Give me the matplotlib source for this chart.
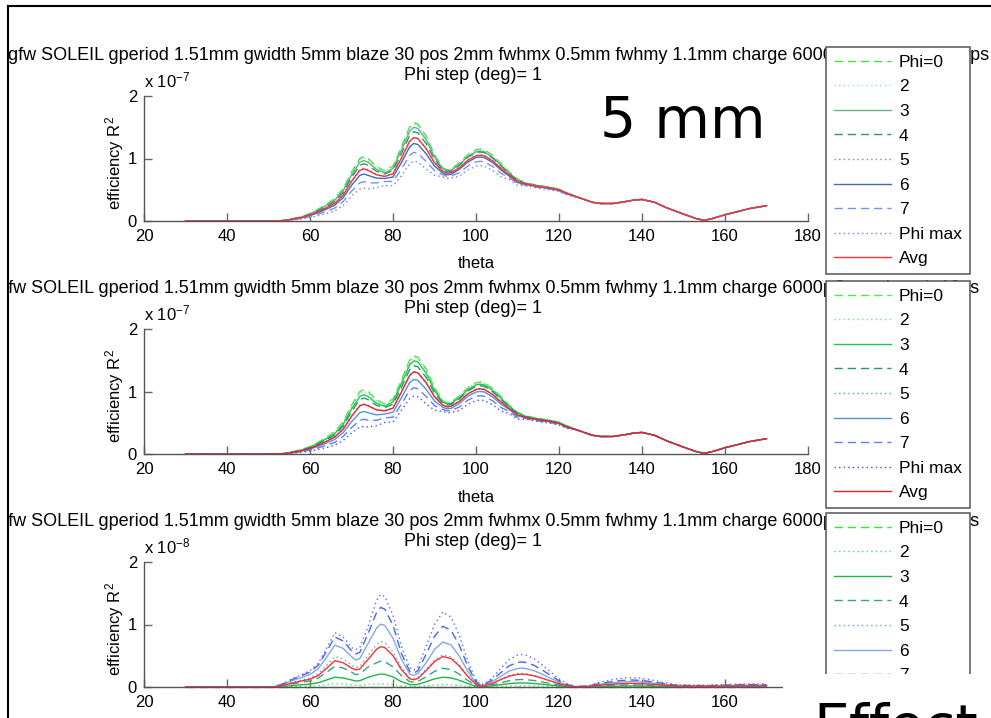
import numpy as np
import matplotlib.pyplot as plt
from matplotlib.lines import Line2D
from matplotlib.patches import Rectangle
from matplotlib.transforms import Bbox, TransformedBbox

plt.rcParams['font.family'] = ['Liberation Sans', 'DejaVu Sans']
plt.rcParams['mathtext.fontset'] = 'custom'
plt.rcParams['mathtext.rm'] = 'Liberation Sans'
plt.rcParams['mathtext.it'] = 'Liberation Sans:italic'

W, H = 991, 718

labels = ['Phi=0', '2', '3', '4', '5', '6', '7', 'Phi max', 'Avg']
title1 = ('gfw SOLEIL gperiod 1.51mm gwidth 5mm blaze 30 pos 2mm fwhmx 0.5mm '
          'fwhmy 1.1mm charge 6000pC rms length 10ps')
title2 = 'Phi step (deg)= 1'

# ---- top two panels (x 1e-7): theta grid, differing part + common tail ----
theta_head = [30, 52, 54, 56, 58, 60, 62, 64, 66, 68,
              70, 72, 73, 74, 76, 78, 80, 82, 84, 85,
              86, 88, 90, 92, 93, 94, 96, 98, 100, 101,
              102, 104, 106, 108, 110, 112, 115, 118, 120, 122]
theta_tail = [125, 128, 130, 133, 136, 138, 140, 143, 146, 150,
              153, 155, 157, 160, 163, 166, 170]
tail_vals = [.37, .30, .28, .28, .31, .335, .345, .30, .21, .11,
             .04, .01, .04, .10, .15, .20, .245]

phi0_head = [0, 0, .01, .04, .07, .12, .19, .27, .36, .52,
             .78, 1.0, 1.03, 1.0, .87, .80, .88, 1.18, 1.5, 1.57,
             1.55, 1.36, 1.06, .85, .82, .83, .93, 1.06, 1.14, 1.15,
             1.14, 1.05, .92, .78, .67, .61, .57, .54, .51, .45]

# panel 1
p2_a = [0, 0, .01, .039, .068, .116, .184, .262, .349, .507,
        .764, .98, 1.009, .98, .857, .792, .867, 1.165, 1.481, 1.55,
        1.53, 1.342, 1.049, .842, .812, .822, .921, 1.049, 1.129, 1.139,
        1.129, 1.04, .911, .772, .663, .604, .564, .535, .505, .446]
p3_a = [0, 0, .01, .037, .065, .112, .177, .251, .335, .486,
        .733, .94, .968, .94, .827, .768, .84, 1.127, 1.433, 1.499,
        1.48, 1.299, 1.023, .833, .804, .813, .902, 1.028, 1.106, 1.116,
        1.106, 1.019, .892, .764, .657, .604, .564, .535, .505, .446]
p4_a = [0, 0, .01, .035, .061, .104, .165, .235, .313, .458,
        .694, .89, .917, .89, .796, .752, .81, 1.074, 1.365, 1.429,
        1.411, 1.238, .986, .816, .787, .797, .893, 1.018, 1.094, 1.104,
        1.094, 1.008, .883, .757, .65, .598, .559, .529, .50, .441]
p5_a = [0, 0, .01, .032, .056, .096, .152, .216, .288, .421,
        .64, .82, .845, .82, .744, .712, .757, 1.003, 1.275, 1.335,
        1.318, 1.156, .933, .791, .763, .772, .856, .975, 1.049, 1.058,
        1.049, .966, .846, .733, .63, .592, .553, .524, .495, .437]
p6_a = [0, 0, .01, .028, .05, .085, .135, .192, .256, .374,
        .569, .73, .752, .73, .687, .68, .704, .932, 1.185, 1.24,
        1.225, 1.074, .88, .765, .738, .747, .828, .943, 1.015, 1.024,
        1.015, .935, .819, .718, .616, .586, .547, .518, .49, .432]
p7_a = [0, 0, .01, .023, .041, .07, .11, .157, .209, .312,
        .476, .61, .628, .61, .609, .632, .634, .826, 1.05, 1.099,
        1.085, .952, .806, .74, .713, .722, .772, .88, .946, .955,
        .946, .872, .764, .694, .596, .573, .536, .508, .479, .423]
pmax_a = [0, 0, 0, .018, .032, .054, .086, .122, .162, .25,
          .398, .51, .525, .51, .531, .568, .563, .72, .915, .958,
          .946, .83, .731, .706, .681, .689, .716, .816, .878, .886,
          .878, .809, .708, .663, .57, .561, .524, .497, .469, .414]
avg_a = [0, 0, .01, .032, .055, .095, .15, .213, .284, .416,
         .632, .81, .834, .81, .74, .713, .757, 1.003, 1.275, 1.335,
         1.318, 1.156, .934, .793, .765, .774, .852, .971, 1.044, 1.053,
         1.044, .962, .843, .735, .631, .591, .552, .523, .494, .436]

# panel 2
p2_b = [0, 0, .01, .038, .067, .115, .182, .259, .346, .502,
        .757, .97, .999, .97, .848, .788, .862, 1.162, 1.478, 1.546,
        1.527, 1.34, 1.044, .842, .812, .822, .921, 1.049, 1.129, 1.139,
        1.129, 1.04, .911, .772, .663, .604, .564, .535, .505, .446]
p3_b = [0, 0, .009, .036, .064, .109, .173, .246, .328, .476,
        .718, .92, .948, .92, .813, .764, .832, 1.121, 1.425, 1.492,
        1.473, 1.292, 1.018, .829, .80, .809, .902, 1.028, 1.106, 1.116,
        1.106, 1.019, .892, .764, .657, .601, .561, .532, .502, .443]
p4_b = [0, 0, .009, .034, .06, .102, .162, .23, .306, .447,
        .679, .87, .896, .87, .779, .744, .796, 1.062, 1.35, 1.413,
        1.395, 1.224, .975, .812, .783, .793, .884, 1.007, 1.083, 1.093,
        1.083, .998, .874, .753, .647, .595, .556, .527, .497, .439]
p5_b = [0, 0, .008, .03, .053, .091, .144, .205, .274, .40,
        .608, .78, .803, .78, .713, .696, .739, .991, 1.26, 1.319,
        1.302, 1.142, .917, .782, .754, .764, .846, .965, 1.037, 1.047,
        1.037, .956, .837, .729, .626, .589, .55, .521, .492, .434]
p6_b = [0, 0, .007, .026, .046, .078, .124, .176, .234, .343,
        .515, .66, .68, .66, .626, .64, .669, .897, 1.14, 1.193,
        1.178, 1.034, .848, .748, .722, .73, .809, .922, .992, 1.0,
        .992, .914, .80, .71, .61, .58, .542, .513, .485, .428]
p7_b = [0, 0, .005, .021, .036, .062, .099, .14, .187, .281,
        .421, .54, .556, .54, .539, .576, .59, .797, 1.013, 1.06,
        1.046, .918, .774, .714, .689, .697, .753, .859, .923, .932,
        .923, .851, .745, .679, .583, .567, .53, .502, .474, .419]
pmax_b = [0, 0, .004, .016, .027, .047, .074, .105, .14, .218,
          .335, .43, .443, .43, .452, .504, .51, .696, .885, .926,
          .915, .802, .70, .68, .656, .664, .698, .795, .855, .863,
          .855, .788, .69, .647, .556, .555, .519, .491, .464, .41]
avg_b = [0, 0, .008, .03, .053, .091, .143, .204, .272, .398,
         .601, .771, .794, .771, .706, .689, .735, .988, 1.256, 1.315,
         1.298, 1.139, .917, .782, .754, .764, .843, .96, 1.033, 1.042,
         1.033, .951, .834, .729, .626, .587, .549, .52, .491, .433]

# ---- bottom panel (x 1e-8) ----
theta_c = [30, 50, 51, 53, 56, 58, 60, 62, 64, 66,
           68, 70, 71, 72, 74, 76, 77, 78, 80, 82,
           84, 85, 86, 88, 90, 92, 94, 96, 98, 100,
           101, 102, 104, 106, 108, 110, 111, 112, 114, 116,
           118, 120, 122, 124, 127, 130, 134, 137, 140, 144,
           148, 152, 156, 160, 165, 170]
phi0_c = [0, 0, 0, 0, 0, 0, 0, 0, 0, 0,
          0, 0, 0, 0, 0, 0, 0, 0, 0, 0,
          0, 0, 0, 0, 0, 0, 0, 0, 0, 0,
          0, 0, 0, 0, 0, 0, 0, 0, 0, 0,
          0, 0, 0, 0, 0, 0, 0, 0, 0, 0,
          0, 0, 0, 0, 0, 0]
p2_c = [0, 0, 0, .002, .008, .012, .016, .023, .037, .052,
        .048, .038, .027, .028, .044, .047, .05, .049, .039, .02,
        .009, .008, .01, .021, .033, .04, .037, .027, .013, .003,
        .001, .002, .005, .012, .018, .02, .021, .02, .018, .014,
        .01, .005, .002, 0, 0, .002, .004, .005, .004, .003,
        .001, .001, .001, .001, .002, .002]
p3_c = [0, 0, 0, .007, .025, .036, .047, .068, .112, .157,
        .144, .113, .096, .101, .155, .193, .207, .203, .161, .086,
        .04, .035, .042, .085, .13, .156, .146, .107, .055, .013,
        .005, .007, .02, .038, .055, .064, .065, .064, .056, .044,
        .03, .016, .006, .001, .002, .009, .014, .017, .015, .01,
        .004, .003, .003, .004, .006, .006]
p4_c = [0, 0, 0, .015, .053, .076, .099, .144, .236, .331,
        .304, .239, .198, .208, .32, .386, .414, .406, .322, .185,
        .087, .076, .09, .163, .25, .30, .28, .205, .105, .025,
        .01, .013, .038, .069, .101, .117, .12, .117, .104, .081,
        .055, .03, .012, .002, .004, .018, .029, .033, .031, .02,
        .009, .007, .007, .009, .011, .011]
p5_c = [0, 0, 0, .022, .078, .112, .146, .213, .347, .487,
        .448, .353, .312, .328, .504, .676, .725, .711, .564, .317,
        .149, .13, .154, .28, .43, .516, .482, .353, .181, .043,
        .017, .022, .065, .126, .185, .214, .218, .214, .189, .147,
        .101, .055, .021, .004, .008, .032, .052, .06, .056, .036,
        .016, .012, .012, .016, .02, .02]
p6_c = [0, 0, 0, .031, .108, .154, .20, .293, .477, .67,
        .616, .485, .432, .454, .698, .938, 1.006, .986, .782, .449,
        .211, .184, .218, .39, .60, .72, .672, .492, .252, .06,
        .024, .03, .09, .174, .255, .296, .302, .296, .261, .203,
        .139, .075, .029, .006, .012, .046, .075, .087, .081, .052,
        .023, .017, .017, .023, .029, .029]
p7_c = [0, 0, 0, .037, .129, .184, .239, .35, .57, .80,
        .736, .58, .528, .554, .854, 1.187, 1.273, 1.247, .989, .541,
        .254, .221, .262, .527, .81, .972, .907, .664, .336, .08,
        .032, .04, .12, .231, .339, .393, .40, .393, .347, .27,
        .185, .10, .039, .008, .015, .06, .098, .113, .105, .068,
        .03, .023, .023, .03, .038, .038]
pmax_c = [0, 0, 0, .04, .14, .20, .26, .38, .62, .87,
          .80, .63, .60, .63, .97, 1.38, 1.48, 1.45, 1.15, .66,
          .31, .27, .32, .65, 1.0, 1.2, 1.12, .82, .42, .10,
          .04, .05, .15, .30, .44, .51, .52, .51, .45, .35,
          .24, .13, .05, .01, .02, .08, .13, .15, .14, .09,
          .04, .03, .03, .04, .05, .05]
avg_c = [0, 0, 0, .019, .068, .097, .126, .184, .30, .421,
         .387, .305, .274, .288, .443, .601, .645, .631, .501, .282,
         .133, .115, .137, .264, .407, .488, .455, .333, .17, .041,
         .016, .02, .061, .119, .174, .202, .206, .202, .178, .139,
         .095, .051, .02, .004, .008, .031, .05, .058, .054, .035,
         .015, .012, .012, .015, .019, .019]

theta_ab = theta_head + theta_tail
series_a = [s + tail_vals for s in
            [phi0_head, p2_a, p3_a, p4_a, p5_a, p6_a, p7_a, pmax_a, avg_a]]
series_b = [s + tail_vals for s in
            [phi0_head, p2_b, p3_b, p4_b, p5_b, p6_b, p7_b, pmax_b, avg_b]]
series_c = [phi0_c, p2_c, p3_c, p4_c, p5_c, p6_c, p7_c, pmax_c, avg_c]

# line colours / styles per panel
styles_a = [('#3fe03f', '--'), ('#95e6a0', ':'), ('#66b383', '-'),
            ('#2f9677', '--'), ('#6890a8', ':'), ('#3b6cc2', '-'),
            ('#7893e8', '--'), ('#7080f5', ':'), ('#ff3030', '-')]
styles_b = [('#4de84d', '--'), ('#7be67b', ':'), ('#20c850', '-'),
            ('#21967a', '--'), ('#45a6cc', ':'), ('#5a8ee0', '-'),
            ('#5f82ea', '--'), ('#4a4ff0', ':'), ('#f02020', '-')]
styles_c = [('#30e830', '--'), ('#5ad878', ':'), ('#1fb845', '-'),
            ('#30a888', '--'), ('#62a8da', ':'), ('#86a8dc', '-'),
            ('#4466ee', '--'), ('#5a68f5', ':'), ('#ff3030', '-')]

fig = plt.figure(figsize=(W / 100, H / 100), dpi=100)
fig.patch.set_facecolor('white')


def px(x, y):
    return x / W, 1 - y / H


def draw_panel(top, theta, series, styles, exponent, legend_top, gshift,
               xlabel=True):
    bottom = top + 125
    ax = fig.add_axes([144 / W, 1 - bottom / H, 664 / W, 125 / H])
    handles = []
    for vals, (col, ls) in zip(series, styles):
        line, = ax.plot(theta, vals, color=col, lw=1.0, clip_on=False)
        if ls == '--':
            line.set_dashes((6.0, 3.5))
        elif ls == ':':
            line.set_dashes((1.0, 2.3))
        handles.append(line)
    ax.set_xlim(20, 180)
    ax.set_ylim(0, 2)
    ax.set_xticks(np.arange(20, 181, 20))
    ax.set_yticks([0, 1, 2])
    ax.spines[['top', 'right']].set_visible(False)
    for side in ('left', 'bottom'):
        ax.spines[side].set_color('#555555')
        ax.spines[side].set_linewidth(1.0)
    ax.tick_params(direction='in', length=5.5, width=1.0, color='#666666',
                   labelsize=12, labelcolor='black')
    ax.tick_params(axis='x', pad=5.5)
    ax.tick_params(axis='y', pad=5)

    # titles (first line is clipped at the slide border)
    t = fig.text(*px(8 - gshift, top - 40.5), title1, fontsize=13,
                 ha='left', va='center', zorder=1)
    t.set_clip_box(TransformedBbox(Bbox.from_extents(8.5 / W, 0, 1, 1),
                                   fig.transFigure))
    t.set_clip_on(True)
    fig.text(*px(473, top - 20), title2, fontsize=13, ha='center',
             va='center', zorder=1)
    fig.text(*px(144, top - 9), 'x 10$^{-%s}$' % exponent, fontsize=12,
             ha='left', va='baseline', zorder=1)
    fig.text(*px(115, top + 67), 'efficiency R$^2$', fontsize=12,
             rotation=90, ha='center', va='center', zorder=1)
    if xlabel:
        fig.text(*px(476, bottom + 43), 'theta', fontsize=12,
                 ha='center', va='center', zorder=1)

    leg = fig.legend(handles, labels, loc='upper left',
                     bbox_to_anchor=px(826, legend_top),
                     bbox_transform=fig.transFigure, borderaxespad=0,
                     fontsize=12.5, handlelength=3.3, handletextpad=0.45,
                     borderpad=0.45, labelspacing=0.54, fancybox=False,
                     framealpha=1, facecolor='white', edgecolor='#555555')
    leg.get_frame().set_linewidth(1.1)
    leg.set_zorder(6)
    return ax


draw_panel(96, theta_ab, series_a, styles_a, '7', 47, 0)
draw_panel(329, theta_ab, series_b, styles_b, '7', 281, 10)
draw_panel(562, theta_c, series_c, styles_c, '8', 513, 10, xlabel=False)

# big slide captions
fig.text(*px(683, 122), '5 mm', fontsize=41, family='DejaVu Sans',
         ha='center', va='center', zorder=12)
fig.add_artist(Rectangle(px(783, 718), (W - 783) / W, (718 - 674) / H,
                         transform=fig.transFigure, facecolor='white',
                         edgecolor='none', zorder=10))
fig.text(*px(813, 702), 'Effect', fontsize=41, family='DejaVu Sans',
         ha='left', va='top', zorder=12)

# slide frame
fig.add_artist(Line2D([7.5 / W, 7.5 / W], [0, 1 - 5.5 / H], color='black',
                      lw=1.5, transform=fig.transFigure, zorder=12))
fig.add_artist(Line2D([7.5 / W, 1], [1 - 5.5 / H, 1 - 5.5 / H], color='black',
                      lw=1.5, transform=fig.transFigure, zorder=12))

fig.savefig('out.png', dpi=100)
